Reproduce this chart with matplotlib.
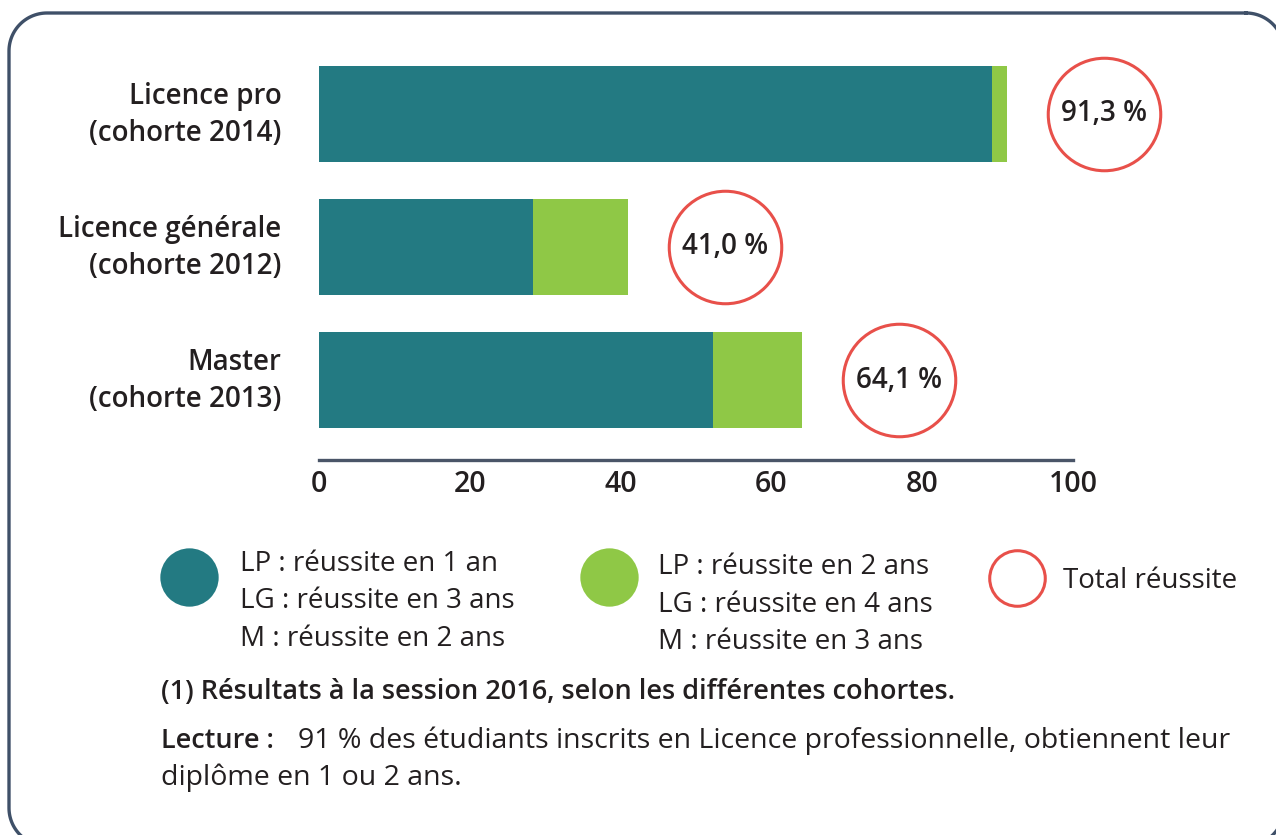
import matplotlib
matplotlib.use("Agg")
import numpy as np
import matplotlib.pyplot as plt
from matplotlib.lines import Line2D

plt.rcParams["font.family"] = ["Open Sans", "DejaVu Sans"]

# ---------------------------------------------------------------------------
# Data
# ---------------------------------------------------------------------------
categories = ["Licence pro\n(cohorte 2014)",
              "Licence générale\n(cohorte 2012)",
              "Master\n(cohorte 2013)"]
first_step = [89.2, 28.4, 52.3]    # LP 1 an / LG 3 ans / M 2 ans
second_step = [2.1, 12.6, 11.8]    # LP 2 ans / LG 4 ans / M 3 ans
totals = [91.3, 41.0, 64.1]
total_labels = ["91,3 %", "41,0 %", "64,1 %"]
xticks = [0, 20, 40, 60, 80, 100]

legend_dark = ["LP : réussite en 1 an", "LG : réussite en 3 ans", "M : réussite en 2 ans"]
legend_green = ["LP : réussite en 2 ans", "LG : réussite en 4 ans", "M : réussite en 3 ans"]
legend_total = "Total réussite"
note = "(1) Résultats à la session 2016, selon les différentes cohortes."
lecture_head = "Lecture :"
lecture_body = "91 % des étudiants inscrits en Licence professionnelle, obtiennent leur"
lecture_line2 = "diplôme en 1 ou 2 ans."

TEAL = "#237a82"
GREEN = "#8fc846"
RED = "#e8504a"
TEXT = "#231f20"
FRAME = "#3f5068"

W, H = 1276, 835


def px(x, y):
    """pixel coords (from top-left) -> figure fraction"""
    return x / W, 1 - y / H


fig = plt.figure(figsize=(W / 100, H / 100), dpi=100)

# background axes in pixel units (y down) for the rounded frame
bg = fig.add_axes([0, 0, 1, 1], zorder=-1)
bg.set_xlim(0, W)
bg.set_ylim(H, 0)
bg.axis("off")


def rounded_rect(x0, y0, x1, y1, r, n=30):
    t = np.linspace(0, np.pi / 2, n)
    xs, ys = [], []
    # corners: top-right, bottom-right, bottom-left, top-left (y down)
    for cx, cy, a0 in [(x1 - r, y0 + r, -np.pi / 2), (x1 - r, y1 - r, 0),
                       (x0 + r, y1 - r, np.pi / 2), (x0 + r, y0 + r, np.pi)]:
        xs.extend(cx + r * np.cos(a0 + t))
        ys.extend(cy + r * np.sin(a0 + t))
    xs.append(xs[0])
    ys.append(ys[0])
    return xs, ys


fx, fy = rounded_rect(9, 13, 1284, 846, 38)
bg.plot(fx, fy, color=FRAME, linewidth=2.4, clip_on=False)

# ---------------------------------------------------------------------------
# Bars
# ---------------------------------------------------------------------------
ax = fig.add_axes([319 / W, 1 - 460 / H, 754 / W, 426 / H])
ypos = [2, 1, 0]
ax.barh(ypos, first_step, height=0.72, color=TEAL)
ax.barh(ypos, second_step, left=first_step, height=0.72, color=GREEN)

offset = 12.8
for y, tot, lab in zip(ypos, totals, total_labels):
    ax.plot(tot + offset, y, marker="o", markersize=81, markerfacecolor="white",
            markeredgecolor=RED, markeredgewidth=2.2, clip_on=False)
    ax.text(tot + offset, y, lab, ha="center", va="center",
            fontsize=20, fontweight="semibold", color=TEXT)

ax.set_xlim(0, 100)
ax.set_ylim(-0.6, 2.6)
ax.set_xticks(xticks)
ax.set_xticklabels([str(t) for t in xticks], fontsize=20.5,
                   fontweight="semibold", color=TEXT)
ax.tick_params(axis="x", length=0, pad=7)
ax.set_yticks([y + 0.05 for y in ypos])
ax.set_yticklabels(categories, fontsize=20, fontweight="semibold",
                   color=TEXT, linespacing=1.38)
ax.tick_params(axis="y", length=0, pad=27)
for s in ["top", "right", "left"]:
    ax.spines[s].set_visible(False)
ax.spines["bottom"].set_color("#4a5568")
ax.spines["bottom"].set_linewidth(2.4)
ax.patch.set_visible(False)

# ---------------------------------------------------------------------------
# Legend
# ---------------------------------------------------------------------------
def legend_dot(x, y, face, edge, ms, mew=0):
    fig.add_artist(Line2D([x / W], [1 - y / H], marker="o", markersize=ms,
                          markerfacecolor=face, markeredgecolor=edge,
                          markeredgewidth=mew, transform=fig.transFigure))


legend_dot(189, 577, TEAL, TEAL, 42)
legend_dot(609, 577, GREEN, GREEN, 42)
legend_dot(1017, 578, "white", RED, 40, 2.2)

for i, line in enumerate(legend_dark):
    fig.text(*px(240, 564 + 37.5 * i), line, fontsize=20, color=TEXT,
             ha="left", va="center")
for i, line in enumerate(legend_green):
    fig.text(*px(658, 567 + 37.5 * i), line, fontsize=20, color=TEXT,
             ha="left", va="center")
fig.text(*px(1063, 581), legend_total, fontsize=20, color=TEXT,
         ha="left", va="center")

# ---------------------------------------------------------------------------
# Notes
# ---------------------------------------------------------------------------
fig.text(*px(161, 692), note, fontsize=19.5, fontweight="semibold", color=TEXT,
         ha="left", va="center")
fig.text(*px(161, 741), lecture_head, fontsize=19.5, fontweight="semibold",
         color=TEXT, ha="left", va="center")
fig.text(*px(298, 741), lecture_body, fontsize=20.5, color=TEXT,
         ha="left", va="center")
fig.text(*px(161, 778), lecture_line2, fontsize=20.5, color=TEXT,
         ha="left", va="center")

fig.savefig("out.png", dpi=100, facecolor="white")
